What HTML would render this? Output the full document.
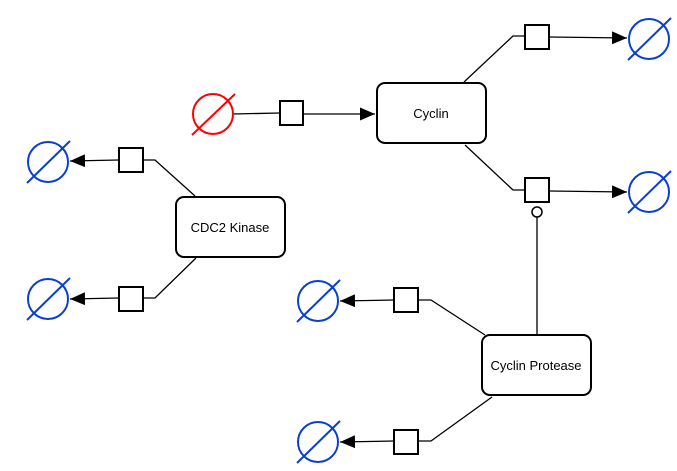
<!DOCTYPE html>
<html><head><style>body{margin:0;background:#fff}svg{display:block}</style></head><body>
<svg width="677" height="471" xmlns="http://www.w3.org/2000/svg" font-family="Liberation Sans, sans-serif" font-size="13">
<defs><marker id="a" markerWidth="15" markerHeight="13" refX="15" refY="6.5" orient="auto" markerUnits="userSpaceOnUse"><path d="M0,0L15,6.5L0,13z" fill="#000"/></marker></defs>
<g stroke="#000" stroke-width="1.3" fill="none">
<path d="M233,114L280,113"/><path d="M303,114L375,114" marker-end="url(#a)"/>
<path d="M464,82L513,36L525,36"/><path d="M549,37L627,38" marker-end="url(#a)"/>
<path d="M465,145L513,190L525,190"/><path d="M549,191L627,192" marker-end="url(#a)"/>
<path d="M537,217L537,335"/>
<path d="M195,196L155,160L143,160"/><path d="M119,160L70,161" marker-end="url(#a)"/>
<path d="M196,258L155,298L143,298"/><path d="M119,298L70,299" marker-end="url(#a)"/>
<path d="M485,335L431,300L418,300"/><path d="M394,300L340,301" marker-end="url(#a)"/>
<path d="M492,397L431,441L418,441"/><path d="M394,441L340,442" marker-end="url(#a)"/>
</g>
<g stroke="#000" stroke-width="2" fill="#fff">
<rect x="280" y="101" width="23" height="24"/>
<rect x="525" y="25" width="24" height="24"/>
<rect x="525" y="178" width="24" height="24"/>
<rect x="119" y="148" width="24" height="24"/>
<rect x="119" y="287" width="24" height="24"/>
<rect x="394" y="288" width="24" height="24"/>
<rect x="394" y="430" width="24" height="24"/>
<circle cx="537" cy="212" r="5" stroke-width="1.5"/>
<rect x="377" y="83" width="109" height="60" rx="8"/>
<rect x="176" y="197" width="109" height="60" rx="8"/>
<rect x="482" y="335" width="109" height="60" rx="8"/>
</g>
<g fill="none" stroke-width="2">
<g stroke="#f00"><circle cx="213" cy="114" r="20"/><path d="M192,135L235,94"/></g>
<g stroke="#0a3fd0">
<circle cx="649" cy="39" r="20"/><path d="M628,60L671,18"/>
<circle cx="649" cy="192" r="20"/><path d="M628,213L671,171"/>
<circle cx="48" cy="162" r="20"/><path d="M27,183L70,141"/>
<circle cx="48" cy="299" r="20"/><path d="M27,320L70,278"/>
<circle cx="318" cy="301" r="20"/><path d="M297,322L340,280"/>
<circle cx="318" cy="442" r="20"/><path d="M297,463L340,421"/>
</g></g>
<g fill="#000" text-anchor="middle">
<text x="431" y="118">Cyclin</text>
<text x="230" y="232">CDC2 Kinase</text>
<text x="536" y="370">Cyclin Protease</text>
</g>
</svg>
</body></html>
